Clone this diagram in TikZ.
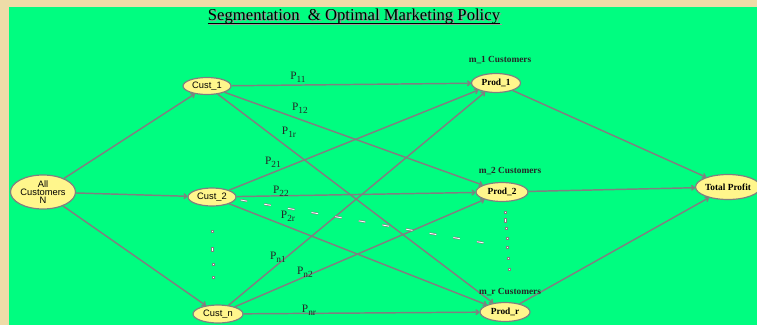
\documentclass[tikz,border=0pt]{standalone}
\usepackage{fontspec}
\setmainfont{Liberation Serif}
\newfontfamily\sansf{Liberation Sans}
\usetikzlibrary{arrows.meta,shapes.geometric}
\definecolor{bggreen}{RGB}{0,253,128}
\definecolor{parch}{RGB}{238,220,168}
\definecolor{nodefill}{RGB}{255,246,140}
\definecolor{edgegray}{RGB}{128,128,128}
\newcommand{\psub}[1]{P\raisebox{-2.2pt}{\fontsize{7}{7.5}\selectfont #1}}
\begin{document}
\begin{tikzpicture}[x=0.75pt,y=-0.75pt,
  ell/.style={ellipse, draw=edgegray, line width=0.9pt, fill=nodefill, inner sep=0pt},
  custtxt/.style={font=\sansf\fontsize{7}{7.5}\selectfont},
  prodtxt/.style={font=\bfseries\fontsize{7}{7.5}\selectfont},
  conn/.style={draw=edgegray, line width=1.1pt, -{To[length=3pt,width=4.5pt]}},
  plabel/.style={font=\fontsize{8.5}{9}\selectfont, inner sep=0pt, text=black!85},
  mlabel/.style={font=\bfseries\fontsize{7}{7.5}\selectfont, inner sep=0pt, text=black!85},
  dotmark/.style={draw=edgegray, fill=white, line width=0.4pt, inner sep=0pt, minimum width=1.8pt, minimum height=1.8pt, rectangle}
]
\useasboundingbox (0,0) rectangle (757,325);
\fill[parch] (0,0) rectangle (757,325);
\fill[bggreen] (9,7) rectangle (757,325);

% title
\node[anchor=base, inner sep=0pt, text=gray!80, font=\fontsize{12.5}{13}\selectfont] (titleshadow) at (355.5,21.5) {Segmentation\ \ \& Optimal Marketing Policy};
\node[anchor=base, inner sep=0pt, font=\fontsize{12.5}{13}\selectfont] (title) at (354,20) {Segmentation\ \ \& Optimal Marketing Policy};
\draw[gray!80, line width=0.8pt] ([yshift=-3.5pt,xshift=1pt]title.base west) -- ([yshift=-3.5pt,xshift=1pt]title.base east);
\draw[black, line width=0.8pt] ([yshift=-2.5pt]title.base west) -- ([yshift=-2.5pt]title.base east);

% nodes
\node[ell, minimum width=48.75pt, minimum height=25.5pt, custtxt, align=center] (all) at (43,192) {All\\[-1.5pt]Customers\\[-1.5pt]N};
\node[ell, minimum width=36pt, minimum height=12.75pt, custtxt] (c1) at (207,86) {Cust\_1};
\node[ell, minimum width=36pt, minimum height=13.5pt, custtxt] (c2) at (212,197) {Cust\_2};
\node[ell, minimum width=37.5pt, minimum height=13.5pt, custtxt] (cn) at (218,314) {Cust\_n};
\node[ell, minimum width=36.75pt, minimum height=14.25pt, prodtxt] (p1) at (496,83) {Prod\_1};
\node[ell, minimum width=39pt, minimum height=14.25pt, prodtxt] (p2) at (502,192) {Prod\_2};
\node[ell, minimum width=37.5pt, minimum height=14.25pt, prodtxt] (pr) at (505,312) {Prod\_r};
\node[ell, minimum width=43.5pt, minimum height=18.75pt, prodtxt] (tp) at (728,187) {Total Profit};

% edges from all customers
\draw[conn] (all) -- (c1);
\draw[conn] (all) -- (c2);
\draw[conn] (all) -- (cn);

% customer -> product
\draw[conn] (c1) -- (p1);
\draw[conn] (c1) -- (p2);
\draw[conn] (c1) -- (pr);
\draw[conn] (c2) -- (p1);
\draw[conn] (c2) -- (p2);
\draw[conn] (c2) -- (pr);
\draw[conn] (cn) -- (p1);
\draw[conn] (cn) -- (p2);
\draw[conn] (cn) -- (pr);

% product -> total profit
\draw[conn] (p1) -- (tp);
\draw[conn] (p2) -- (tp);
\draw[conn] (pr) -- (tp);

% dashed trail
\coordinate (trailend) at (490,244);
\draw[draw=edgegray, line width=1.6pt, dash pattern=on 5pt off 13pt] (c2.east) ++(4,3) -- (trailend);
\draw[draw=white, line width=0.6pt, dash pattern=on 5pt off 13pt] (c2.east) ++(4,3) -- (trailend);

% labels
\node[plabel] (l11) at (298,77) {\psub{11}};
\node[plabel] (l12) at (300,108) {\psub{12}};
\node[plabel] (l1r) at (289,132) {\psub{1r}};
\node[plabel] (l21) at (273,162) {\psub{21}};
\node[plabel] (l22) at (281,191) {\psub{22}};
\node[plabel] (l2r) at (288,216) {\psub{2r}};
\node[plabel] (ln1) at (278,257) {\psub{n1}};
\node[plabel] (ln2) at (305,272) {\psub{n2}};
\node[plabel] (lnr) at (309,310) {\psub{nr}};

\node[mlabel] (m1) at (500,60) {m\_1 Customers};
\node[mlabel] (m2) at (510,171) {m\_2 Customers};
\node[mlabel] (mr) at (510,292) {m\_r Customers};

% vertical dots
\node[dotmark] (d1) at (212,231) {};
\node[dotmark, minimum height=3pt] (d2) at (212,249) {};
\node[dotmark] (d3) at (213,264) {};
\node[dotmark] (d4) at (213,277) {};

\node[dotmark] (e1) at (505,212) {};
\node[dotmark, minimum height=3pt] (e2) at (505,220) {};
\node[dotmark] (e3) at (506,228) {};
\node[dotmark] (e4) at (507,238) {};
\node[dotmark] (e5) at (507,247) {};
\node[dotmark] (e6) at (508,258) {};
\node[dotmark] (e7) at (509,269) {};
\end{tikzpicture}
\end{document}
